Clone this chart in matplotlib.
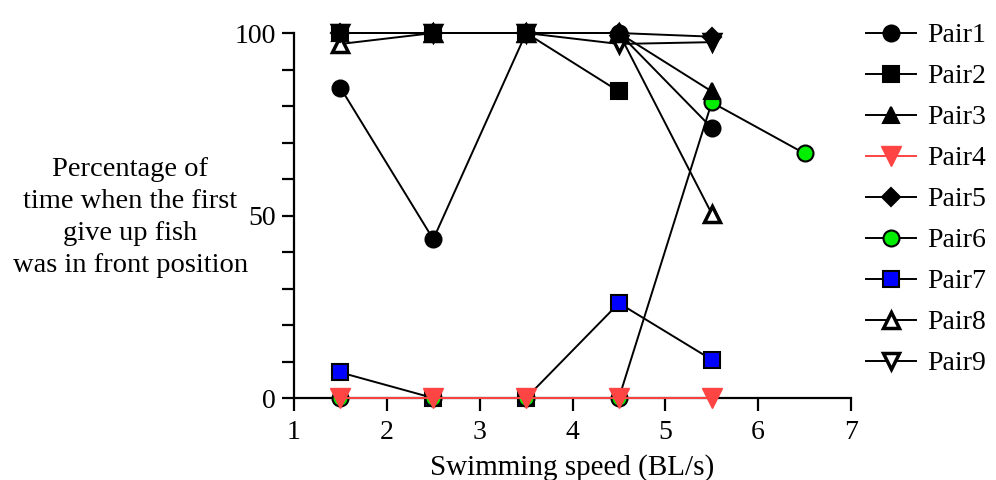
import matplotlib
matplotlib.use("Agg")
from matplotlib import pyplot as plt
from matplotlib.ticker import MultipleLocator, FuncFormatter

plt.rcParams['font.family'] = ['Liberation Serif', 'DejaVu Serif']

# swimming speeds (BL/s) for each pair
speed = [1.5, 2.5, 3.5, 4.5, 5.5]
speed6 = [1.5, 2.5, 3.5, 4.5, 5.5, 6.5]
speed2 = [1.5, 2.5, 3.5, 4.5]

pair1 = [85, 43.5, 100, 100, 74]
pair2 = [100, 100, 100, 84]
pair3 = [100, 100, 100, 100, 84]
pair4 = [0, 0, 0, 0, 0]
pair5 = [100, 100, 100, 100, 99]
pair6 = [0, 0, 0, 0, 81, 67]
pair7 = [7, 0, 0, 26, 10.5]
pair8 = [97, 100, 100, 100, 50.5]
pair9 = [100, 100, 100, 97, 97.5]

red = '#ff4444'

fig = plt.figure(figsize=(9.96, 4.8), dpi=100)
ax = fig.add_axes([0.2952, 0.1708, 0.5592, 0.7604])

# drawn last-to-first so Pair1 ends up on top (like the original)
kw = dict(lw=1.4, clip_on=False, zorder=3)
ax.plot(speed, pair9, color='black', marker='v', mfc='white', mec='black',
        ms=11, mew=2.5, label='Pair9', **kw)
ax.plot(speed, pair8, color='black', marker='^', mfc='white', mec='black',
        ms=11, mew=2.5, label='Pair8', **kw)
ax.plot(speed, pair7, color='black', marker='s', mfc='#0000ff', mec='black',
        ms=11, mew=1.5, label='Pair7', **kw)
ax.plot(speed6, pair6, color='black', marker='o', mfc='#00ee00', mec='black',
        ms=11.5, mew=1.5, label='Pair6', **kw)
ax.plot(speed, pair5, color='black', marker='D', mfc='black', mec='black',
        ms=9, mew=1.5, label='Pair5', **kw)
ax.plot(speed, pair4, color=red, marker='v', mfc=red, mec=red,
        ms=14, label='Pair4', **kw)
ax.plot(speed, pair3, color='black', marker='^', mfc='black', mec='black',
        ms=11.5, mew=1.5, label='Pair3', **kw)
ax.plot(speed2, pair2, color='black', marker='s', mfc='black', mec='black',
        ms=11, mew=1.5, label='Pair2', **kw)
ax.plot(speed, pair1, color='black', marker='o', mfc='black', mec='black',
        ms=11.5, mew=1.5, label='Pair1', **kw)

ax.set_xlim(1, 7)
ax.set_ylim(0, 100)
ax.xaxis.set_major_locator(MultipleLocator(1))
ax.yaxis.set_major_locator(MultipleLocator(10))
ax.yaxis.set_major_formatter(FuncFormatter(lambda v, p: '%d' % v if v % 50 == 0 else ''))

for s in ['top', 'right']:
    ax.spines[s].set_visible(False)
for s in ['left', 'bottom']:
    ax.spines[s].set_linewidth(1.6)
ax.tick_params(direction='out', length=9, width=1.6, labelsize=20, pad=4)
ax.tick_params(axis='x', pad=7)

ax.set_xlabel('Swimming speed (BL/s)', fontsize=21, labelpad=6)
fig.text(0.131, 0.547, 'Percentage of\ntime when the first\ngive up fish\nwas in front position',
         ha='center', va='center', fontsize=20.5, linespacing=1.38)

handles, labels = ax.get_legend_handles_labels()
order = ['Pair1', 'Pair2', 'Pair3', 'Pair4', 'Pair5', 'Pair6', 'Pair7', 'Pair8', 'Pair9']
hmap = dict(zip(labels, handles))
fig.legend([hmap[k] for k in order], order, loc='upper left',
           bbox_to_anchor=(0.856, 0.981), frameon=False, fontsize=20,
           handlelength=1.8, handletextpad=0.4, labelspacing=0.56, borderpad=0)

fig.savefig('out.png', dpi=100)
